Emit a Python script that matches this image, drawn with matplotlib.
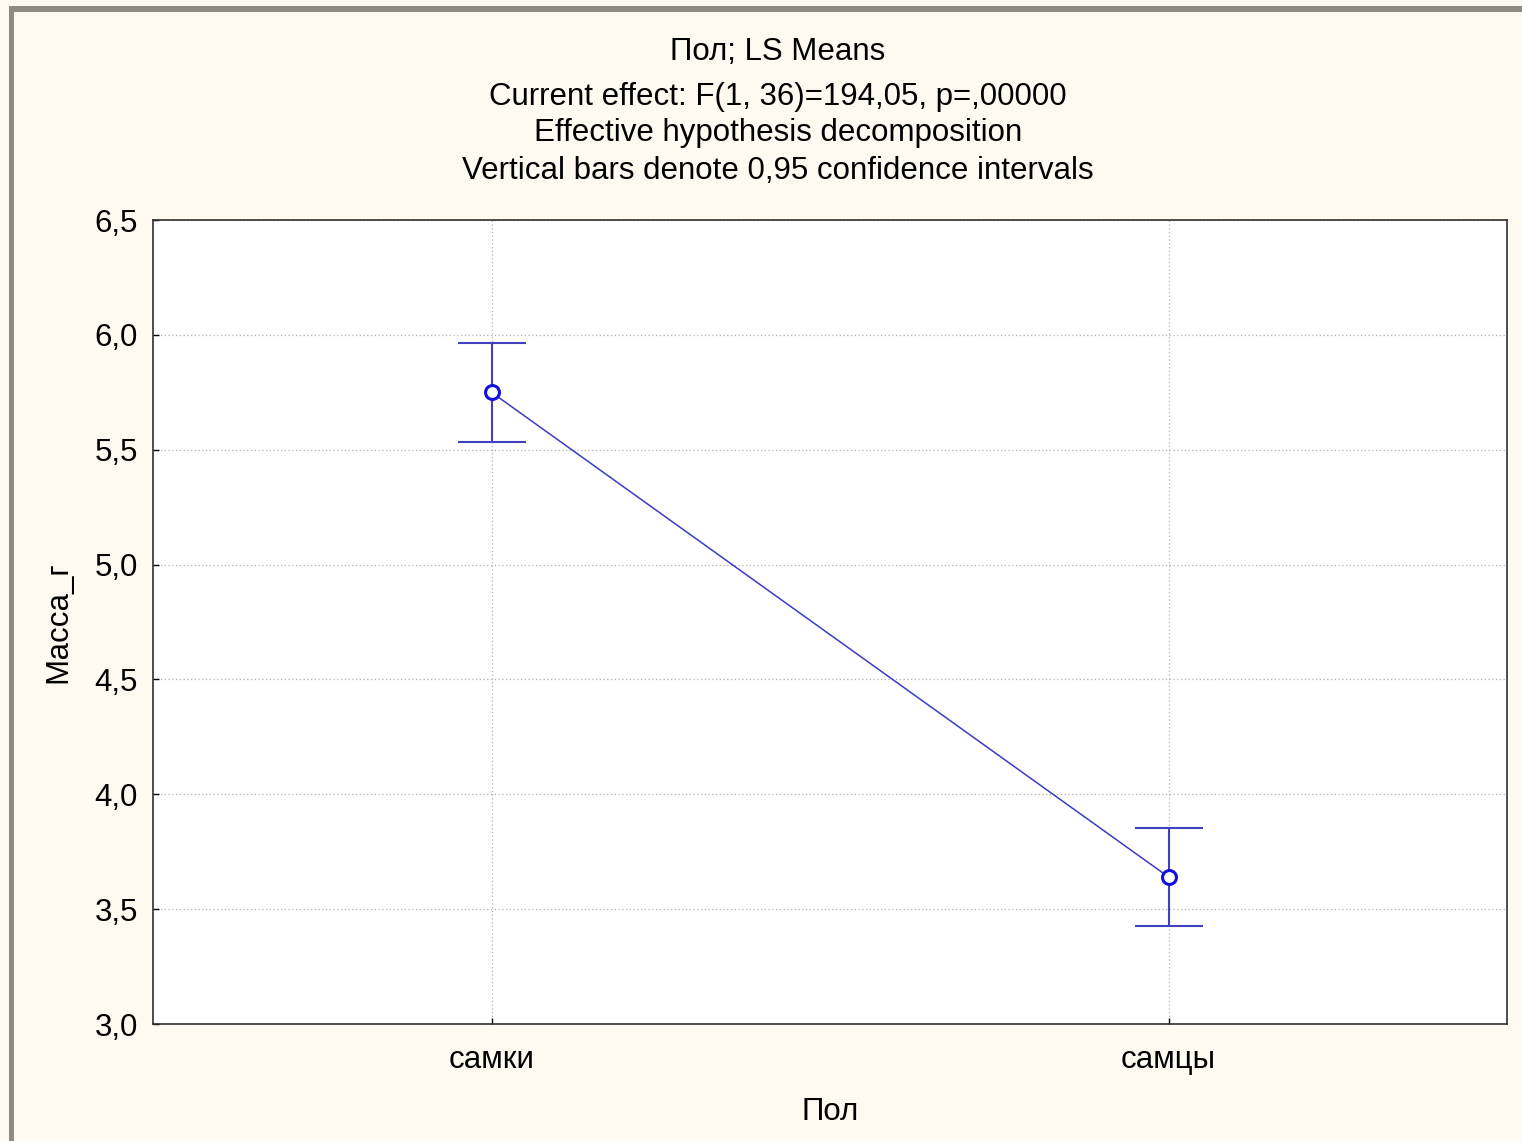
import matplotlib
matplotlib.use("Agg")
import matplotlib.pyplot as plt
from matplotlib.patches import Rectangle

plt.rcParams['font.family'] = ['Liberation Sans', 'DejaVu Sans']

categories = ["самки", "самцы"]
means = [5.75, 3.64]
ci_low = [5.535, 3.425]
ci_high = [5.965, 3.855]
yticks = [3.0, 3.5, 4.0, 4.5, 5.0, 5.5, 6.0, 6.5]
ytick_labels = ["3,0", "3,5", "4,0", "4,5", "5,0", "5,5", "6,0", "6,5"]
title_lines = ["Пол; LS Means",
               "Current effect: F(1, 36)=194,05, p=,00000",
               "Effective hypothesis decomposition",
               "Vertical bars denote 0,95 confidence intervals"]

W, H = 1522, 1141
FS = 22.5
fig = plt.figure(figsize=(W/100, H/100), dpi=100)
fig.patch.set_facecolor('#FEFAF0')

# window border (left & top)
fig.patches.append(Rectangle((9/W, 0), 5/W, 1 - 6/H, transform=fig.transFigure,
                             facecolor='#8E8C80', edgecolor='none', zorder=0))
fig.patches.append(Rectangle((9/W, 1 - 12/H), 1 - 9/W, 6/H, transform=fig.transFigure,
                             facecolor='#8E8C80', edgecolor='none', zorder=0))

ax = fig.add_axes([153/W, 1 - 1024/H, (1507-153)/W, (1024-220)/H])
ax.set_facecolor('white')

x = list(range(len(categories)))
ax.plot(x, means, color='#3B3BC8', lw=1.1, zorder=3)
yerr = [[m - l for m, l in zip(means, ci_low)], [h - m for m, h in zip(means, ci_high)]]
ax.errorbar(x, means, yerr=yerr, fmt='none', ecolor='#4040C0', elinewidth=1.5,
            capsize=24.5, capthick=1.5, zorder=3)
ax.plot(x, means, 'o', ms=10, mfc='white', mec='#1010E0', mew=2.2, zorder=4, ls='none')

ax.set_xlim(-0.5, 1.5)
ax.set_ylim(3.0, 6.5)
ax.set_yticks(yticks)
ax.set_yticklabels(ytick_labels)
ax.set_xticks(x)
ax.set_xticklabels(categories)
ax.tick_params(direction='in', length=4, width=1, labelsize=FS, colors='black', pad=11)
ax.tick_params(axis='x', pad=15)
ax.grid(True, ls=(0, (1, 2)), color='#B0B0B0', lw=0.9)
ax.set_axisbelow(True)
for s in ax.spines.values():
    s.set_color('#303030')
    s.set_linewidth(1.2)

ax.set_xlabel("Пол", fontsize=FS, labelpad=16)
ax.set_ylabel("Масса_г", fontsize=FS, labelpad=15)

ys = [52, 97, 133, 171]
for t, yy in zip(title_lines, ys):
    fig.text(778/W, 1 - yy/H, t, ha='center', va='center', fontsize=FS)

fig.savefig('out.png', dpi=100, facecolor=fig.get_facecolor())
